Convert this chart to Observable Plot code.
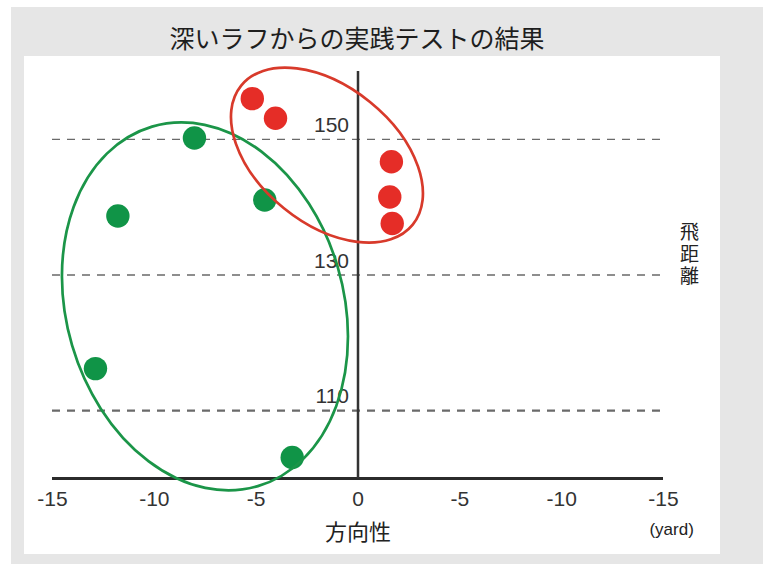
<!DOCTYPE html>
<html>
<head>
<meta charset="utf-8">
<script src="https://cdn.jsdelivr.net/npm/d3@7"></script>
<script src="https://cdn.jsdelivr.net/npm/@observablehq/plot@0.6"></script>
<style>
  html, body { margin: 0; padding: 0; width: 763px; height: 564px; overflow: hidden; background: #fff; }
  #bg { position: absolute; left: 11px; top: 7px; right: 0; bottom: 0; background: #e6e6e6; }
  #title { position: absolute; left: 0; width: 714px; top: 20px; text-align: center;
           font-family: "Noto Sans CJK JP", sans-serif; font-size: 25px; line-height: 34px; color: #1e1e1e; }
  #panel { position: absolute; left: 24px; top: 56px; width: 696px; height: 498px; background: #fff; }
  #panel svg { overflow: visible; }
</style>
</head>
<body>
<div id="bg"></div>
<div id="title">深いラフからの実践テストの結果</div>
<div id="panel"></div>
<script>
// --- data ---
const redX = [-5.19, -4.05, 1.64, 1.56, 1.68];
const redY = [156.0, 153.1, 146.7, 141.5, 137.6];
const greenX = [-8.03, -4.58, -11.79, -12.89, -3.23];
const greenY = [150.2, 141.05, 138.7, 116.2, 103.1];
const xTicks = [-15, -10, -5, 0, 5, 10, 15];
const xTickLabels = ["-15", "-10", "-5", "0", "-5", "-10", "-15"];
const yTicks = [150, 130, 110];
const yTickLabels = ["150", "130", "110"];
const yLabel = "飛距離";
// group ellipse centres (data units)
const ellipseCX = [-7.49, -1.5];
const ellipseCY = [125.3, 147.6];

const red = redX.map((x, i) => ({x, y: redY[i]}));
const green = greenX.map((x, i) => ({x, y: greenY[i]}));

const ns = "http://www.w3.org/2000/svg";
// ellipse annotation shapes (pixel radii & rotation)
const ellipseStyle = [
  {rx: 138.5, ry: 187.4, angle: -16.4, stroke: "#1b9548"},
  {rx: 110.4, ry: 68.4, angle: 39, stroke: "#d83a2b"}
];
function ellipseMark(i) {
  return (index, scales) => {
    const el = document.createElementNS(ns, "ellipse");
    const cx = scales.x(ellipseCX[i]), cy = scales.y(ellipseCY[i]);
    const s = ellipseStyle[i];
    el.setAttribute("cx", cx);
    el.setAttribute("cy", cy);
    el.setAttribute("rx", s.rx);
    el.setAttribute("ry", s.ry);
    el.setAttribute("transform", `rotate(${s.angle} ${cx} ${cy})`);
    el.setAttribute("fill", "none");
    el.setAttribute("stroke", s.stroke);
    el.setAttribute("stroke-width", 2.7);
    return el;
  };
}
// vertical (tategaki) axis label
function verticalLabel(index, scales) {
  const t = document.createElementNS(ns, "text");
  t.setAttribute("x", scales.x(16.3));
  t.setAttribute("y", scales.y(132.9));
  t.setAttribute("writing-mode", "vertical-rl");
  t.setAttribute("text-anchor", "middle");
  t.setAttribute("font-family", "Noto Sans CJK JP, sans-serif");
  t.setAttribute("font-size", 19);
  t.setAttribute("letter-spacing", 3);
  t.setAttribute("fill", "#222");
  t.textContent = yLabel;
  return t;
}

const numFont = "Liberation Sans, Arial, sans-serif";
const jpFont = "Noto Sans CJK JP, sans-serif";

const chart = Plot.plot({
  width: 696,
  height: 498,
  marginLeft: 28,
  marginRight: 57,
  marginTop: 15,
  marginBottom: 76,
  x: {domain: [-15, 15], axis: null},
  y: {domain: [100, 160], axis: null},
  style: {background: "transparent", overflow: "visible"},
  marks: [
    Plot.ruleY(yTicks, {x1: -15, x2: 15, stroke: "#6a6a6a", strokeDasharray: "8,7",
      strokeWidth: d => d === 110 ? 2.2 : 1.3}),
    Plot.ruleY([100], {x1: -15, x2: 15, stroke: "#2b2b2b", strokeWidth: 3}),
    Plot.ruleX([0], {y1: 100, y2: 160, stroke: "#333", strokeWidth: 2.5}),
    Plot.text(yTicks, {x: 0, y: d => d, text: (d, i) => yTickLabels[i], dx: -9, dy: -14,
      textAnchor: "end", fontSize: 21, fontFamily: numFont, fill: "#333"}),
    Plot.text(xTicks, {x: d => d, y: 100, text: (d, i) => xTickLabels[i], dy: 21,
      fontSize: 21, fontFamily: numFont, fill: "#333"}),
    Plot.text(["方向性"], {x: 0, y: 100, dy: 54, fontSize: 22, fontFamily: jpFont, fill: "#222"}),
    Plot.text(["(yard)"], {x: 15.4, y: 100, dy: 51, fontSize: 17, fontFamily: numFont, fill: "#222"}),
    verticalLabel,
    Plot.dot(green, {x: "x", y: "y", r: 11.7, fill: "#109447"}),
    Plot.dot(red, {x: "x", y: "y", r: 11.7, fill: "#e52d27"}),
    ellipseMark(0),
    ellipseMark(1)
  ]
});
document.getElementById("panel").appendChild(chart);
</script>
</body>
</html>
